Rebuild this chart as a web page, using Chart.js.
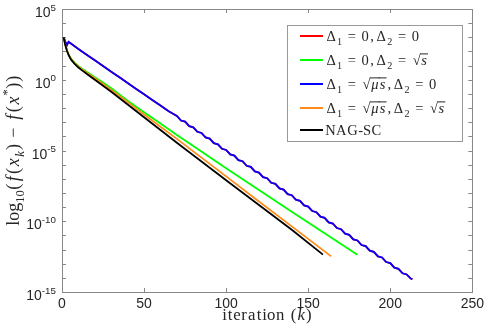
<!DOCTYPE html>
<html>
<head>
<meta charset="utf-8">
<script src="https://cdn.jsdelivr.net/npm/chart.js"></script>
<style>
  body { margin: 0; background: #fff; }
</style>
</head>
<body>
<canvas id="chart" width="488" height="334"></canvas>
<script>
// values are log10(f(x_k) - f(x*))
var seriesNames = ['Δ_{1}=0,Δ_{2}=0', 'Δ_{1}=0,Δ_{2}=√{s}', 'Δ_{1}=√{μs},Δ_{2}=0', 'Δ_{1}=√{μs},Δ_{2}=√{s}', 'NAG-SC'];
var seriesColors = ['#ff0000', '#00ff00', '#0000ff', '#ff8c1a', '#000000'];

var blueIter = [1, 2, 3, 4, 5, 10, 15, 20, 25, 30, 35, 40, 45, 50, 55, 60, 65,
  70, 72.5, 75, 77.5, 80, 82.5, 85, 87.5, 90, 92.5, 95, 97.5, 100, 102.5, 105, 107.5,
  110, 112.5, 115, 117.5, 120, 122.5, 125, 127.5, 130, 132.5, 135, 137.5, 140, 142.5,
  145, 147.5, 150, 152.5, 155, 157.5, 160, 162.5, 165, 167.5, 170, 172.5, 175, 177.5,
  180, 182.5, 185, 187.5, 190, 192.5, 195, 197.5, 200, 202.5, 205, 207.5, 210, 212.5, 213.5];
var blueVal = [3.0, 2.7, 2.45, 2.68, 2.6, 2.17, 1.77, 1.37, 0.97, 0.57, 0.17, -0.23, -0.63, -1.03, -1.43, -1.82, -2.22,
  -2.56, -2.88, -2.96, -3.28, -3.36, -3.68, -3.76, -4.08, -4.16, -4.48, -4.56, -4.88, -4.96, -5.28, -5.36, -5.68,
  -5.76, -6.08, -6.16, -6.48, -6.56, -6.88, -6.96, -7.28, -7.36, -7.68, -7.76, -8.08, -8.16, -8.48,
  -8.56, -8.88, -8.96, -9.28, -9.36, -9.68, -9.76, -10.08, -10.16, -10.48, -10.56, -10.88, -10.96, -11.28,
  -11.36, -11.68, -11.76, -12.08, -12.16, -12.48, -12.56, -12.88, -12.96, -13.28, -13.36, -13.68, -13.76, -14.05, -14.1];

// red run sits right under the blue one
var redIter = blueIter.slice();
var redVal = blueVal.slice();

var greenIter = [1, 2, 3, 4, 5, 6, 8, 10, 12, 15, 20, 25, 30, 40, 50, 60, 70, 80, 100, 120, 140, 160, 180];
var greenVal = [3.0, 2.5, 2.1, 1.8, 1.58, 1.42, 1.17, 0.97, 0.8, 0.56, 0.18, -0.2, -0.6, -1.48, -2.3, -3.1, -3.9, -4.68, -6.25, -7.8, -9.32, -10.84, -12.36];

var orangeIter = [1, 2, 3, 4, 5, 6, 8, 10, 12, 15, 20, 25, 30, 40, 50, 60, 70, 80, 100, 120, 140, 164];
var orangeVal = [3.0, 2.47, 2.08, 1.78, 1.56, 1.39, 1.13, 0.92, 0.75, 0.5, 0.1, -0.3, -0.72, -1.58, -2.45, -3.32, -4.18, -5.06, -6.83, -8.6, -10.36, -12.48];

var blackIter = [1, 2, 3, 4, 5, 6, 8, 10, 12, 15, 20, 25, 30, 40, 50, 60, 70, 80, 100, 120, 140, 159];
var blackVal = [3.0, 2.45, 2.05, 1.75, 1.52, 1.35, 1.08, 0.86, 0.68, 0.42, 0.0, -0.42, -0.85, -1.75, -2.65, -3.55, -4.45, -5.33, -7.1, -8.85, -10.6, -12.36];

var xTicks = [0, 50, 100, 150, 200, 250];
var yMajor = [-15, -10, -5, 0, 5];

function pts(it, v) {
  return it.map(function (k, i) { return { x: k, y: v[i] }; });
}

// rough TeX advances (em) so the serif labels take the width they have in the figure
var texAdv = {
  'l': .278, 'o': .5, 'g': .5, '(': .389, ')': .389, 'f': .49, 'x': .572, 'k': .521, 's': .469,
  'μ': .603, '−': 1.222, '=': 1.334, ',': .445, '*': .5, 'Δ': .833, '√': .62, 'i': .278, 't': .389,
  'e': .444, 'r': .392, 'a': .5, 'n': .556, ' ': .333, 'N': .75, 'A': .75, 'G': .785, '-': .333,
  'S': .556, 'C': .722
};
var italicChars = 'fxksμ';

function mathRuns(str) {
  var out = [], i = 0;
  while (i < str.length) {
    var c = str[i];
    if ((c === '_' || c === '^' || c === '√') && str[i + 1] === '{') {
      var end = str.indexOf('}', i);
      var inner = str.slice(i + 2, end);
      if (c === '√') {
        out.push({ t: '√', lv: 0 });
        for (var j = 0; j < inner.length; j++) out.push({ t: inner[j], lv: 0, over: true });
      } else {
        for (var j2 = 0; j2 < inner.length; j2++) out.push({ t: inner[j2], lv: c === '_' ? -1 : 1 });
      }
      i = end + 1;
    } else {
      out.push({ t: c, lv: 0 });
      i++;
    }
  }
  return out;
}

function drawMath(ctx, str, x, y, size, family, tex, measureOnly) {
  var cx = x;
  mathRuns(str).forEach(function (r) {
    var fs = r.lv ? size * 0.7 : size;
    ctx.font = (tex && italicChars.indexOf(r.t) >= 0 ? 'italic ' : '') + fs + 'px ' + family;
    var gw = ctx.measureText(r.t).width;
    var adv = gw;
    if (tex) adv = (texAdv[r.t] !== undefined ? texAdv[r.t] : (/[0-9]/.test(r.t) ? .5 : gw / fs)) * fs;
    if (!measureOnly) {
      var dy = r.lv < 0 ? size * 0.3 : (r.lv > 0 ? -size * 0.45 : 0);
      var gx = r.t === '√' ? cx + adv - gw : cx + (adv - gw) / 2;
      ctx.fillText(r.t, gx, y + dy);
      if (r.over) ctx.fillRect(cx - 0.5, y - size * 0.8, adv + 1, 1);
    }
    cx += adv;
  });
  return cx - x;
}

var serif = '"Liberation Serif", serif';
var sans = '"Liberation Sans", Arial, sans-serif';

var decor = {
  id: 'decor',
  beforeDatasetsDraw: function (chart) {
    var ctx = chart.ctx, a = chart.chartArea, xs = chart.scales.x, ys = chart.scales.y;
    ctx.save();
    ctx.strokeStyle = '#888';
    ctx.lineWidth = 1;
    ctx.strokeRect(Math.round(a.left) + 0.5, Math.round(a.top) + 0.5,
      Math.round(a.right - a.left), Math.round(a.bottom - a.top));
    ctx.beginPath();
    xTicks.forEach(function (v) {
      var px = Math.round(xs.getPixelForValue(v)) + 0.5;
      ctx.moveTo(px, a.bottom); ctx.lineTo(px, a.bottom - 4);
      ctx.moveTo(px, a.top); ctx.lineTo(px, a.top + 4);
    });
    for (var v = ys.min; v <= ys.max; v++) {
      var py = Math.round(ys.getPixelForValue(v)) + 0.5;
      ctx.moveTo(a.left, py); ctx.lineTo(a.left + 4, py);
      ctx.moveTo(a.right, py); ctx.lineTo(a.right - 4, py);
    }
    ctx.stroke();

    // y tick labels 10^n
    ctx.fillStyle = '#262626';
    ctx.textBaseline = 'alphabetic';
    ctx.textAlign = 'left';
    yMajor.forEach(function (v) {
      var s = '10^{' + v + '}';
      var w = drawMath(ctx, s, 0, 0, 14, sans, false, true);
      drawMath(ctx, s, 56 - w, ys.getPixelForValue(v) + 8, 14, sans, false, false);
    });

    // axis titles
    var xt = 'iteration (k)';
    var wx = drawMath(ctx, xt, 0, 0, 16.8, serif, true, true);
    drawMath(ctx, xt, (a.left + a.right) / 2 - wx / 2, 320, 16.8, serif, true, false);

    var yt = 'log_{10}(f(x_{k})−f(x^{*}))';
    var wy = drawMath(ctx, yt, 0, 0, 18, serif, true, true);
    ctx.translate(19, (a.top + a.bottom) / 2);
    ctx.rotate(-Math.PI / 2);
    drawMath(ctx, yt, -wy / 2, 0, 18, serif, true, false);
    ctx.restore();
  },
  afterDraw: function (chart) {
    var ctx = chart.ctx;
    ctx.save();
    ctx.fillStyle = '#fff';
    ctx.fillRect(287, 25, 176, 117);
    ctx.strokeStyle = '#999';
    ctx.lineWidth = 1;
    ctx.strokeRect(287.5, 25.5, 175, 116);
    var rows = [36, 60, 84, 108, 130];
    ctx.textBaseline = 'alphabetic';
    seriesNames.forEach(function (name, i) {
      var y = rows[i];
      ctx.strokeStyle = seriesColors[i];
      ctx.lineWidth = 2;
      ctx.beginPath();
      ctx.moveTo(300, y); ctx.lineTo(323, y);
      ctx.stroke();
      ctx.fillStyle = '#262626';
      drawMath(ctx, name, 325, y + 5, 14.5, serif, true, false);
    });
    ctx.restore();
  }
};

var datasets = [
  { label: seriesNames[4], data: pts(blackIter, blackVal), borderColor: seriesColors[4] },
  { label: seriesNames[3], data: pts(orangeIter, orangeVal), borderColor: seriesColors[3] },
  { label: seriesNames[2], data: pts(blueIter, blueVal), borderColor: seriesColors[2] },
  { label: seriesNames[1], data: pts(greenIter, greenVal), borderColor: seriesColors[1] },
  { label: seriesNames[0], data: pts(redIter, redVal), borderColor: seriesColors[0] }
];
datasets.forEach(function (d) {
  d.borderWidth = 1.8;
  d.pointRadius = 0;
  d.tension = 0;
  d.fill = false;
});

new Chart(document.getElementById('chart').getContext('2d'), {
  type: 'line',
  data: { datasets: datasets },
  options: {
    responsive: false,
    animation: false,
    devicePixelRatio: 1,
    layout: { padding: { top: 9, right: 11.5, left: 0, bottom: 0 } },
    plugins: { legend: { display: false }, tooltip: { enabled: false } },
    scales: {
      x: {
        type: 'linear', min: 0, max: 250,
        afterBuildTicks: function (s) { s.ticks = xTicks.map(function (v) { return { value: v }; }); },
        ticks: { color: '#262626', font: { family: sans, size: 14 }, padding: 4, maxRotation: 0 },
        grid: { display: true, drawOnChartArea: false, drawTicks: false },
        border: { display: false },
        afterFit: function (s) { s.height = 42; }
      },
      y: {
        type: 'linear', min: -15, max: 5,
        ticks: { display: false, stepSize: 1 },
        grid: { display: false },
        border: { display: false },
        afterFit: function (s) { s.width = 62; }
      }
    }
  },
  plugins: [decor]
});
</script>
</body>
</html>
